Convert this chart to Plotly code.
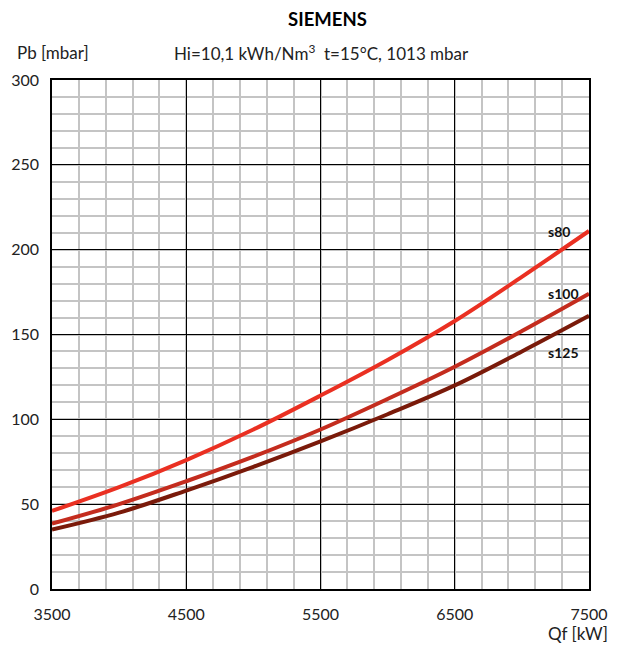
import plotly.graph_objects as go

qf = [3500, 4000, 4500, 5000, 5500, 6000, 6500, 7000, 7500]
s80 = [46, 60, 76, 94, 114, 135, 158, 184, 211]
s100 = [38.5, 50, 63.5, 78, 94, 112, 131, 152, 174]
s125 = [35, 45, 58, 72, 87, 103, 120, 140, 161]
series = [("s80", s80, "rgb(234,48,34)"), ("s100", s100, "rgb(196,44,30)"), ("s125", s125, "rgb(122,26,10)")]
label_pos = {"s80": 211, "s100": 174, "s125": 139.5}
label_x = 7178
xticks = [3500, 4500, 5500, 6500, 7500]
yticks = [0, 50, 100, 150, 200, 250, 300]

# page body has an 8px margin: figure coords = screenshot coords - 8
PL, PT, PW, PH = 52, 80, 537, 509  # plot box in screenshot pixels
W, H = 619, 638

fig = go.Figure()
for name, vals, col in series:
    fig.add_trace(go.Scatter(x=qf, y=vals, mode="lines", name=name,
                             line=dict(color=col, width=4, shape="spline"), showlegend=False))
    fig.add_annotation(x=label_x, y=label_pos[name], text="<b>%s</b>" % name, showarrow=False,
                       xanchor="left", yanchor="middle",
                       font=dict(size=14, color="#111", family="Lato"))

font = dict(family="Lato", size=16, color="#222")
hfont = dict(family="Lato", size=17, color="#222")
fig.update_layout(
    width=W, height=H, margin=dict(l=PL - 8, r=W - (PL - 8) - PW, t=PT - 8, b=H - (PT - 8) - PH),
    paper_bgcolor="white", plot_bgcolor="white", font=font,
    xaxis=dict(range=[3500, 7500], tickvals=xticks, ticktext=[str(v) for v in xticks],
               showgrid=True, gridcolor="black", gridwidth=1.2, automargin=False,
               minor=dict(dtick=200, tick0=3500, showgrid=True, gridcolor="#c4c4c4", gridwidth=1.5),
               showline=True, linecolor="black", linewidth=1.5, mirror=True, zeroline=False,
               ticks="outside", ticklen=10, tickcolor="rgba(0,0,0,0)", tickfont=font),
    yaxis=dict(range=[0, 300], tickvals=yticks, showgrid=True, gridcolor="black", gridwidth=1.2,
               automargin=False,
               minor=dict(dtick=10, showgrid=True, gridcolor="#c4c4c4", gridwidth=1.5),
               showline=True, linecolor="black", linewidth=1.5, mirror=True, zeroline=False,
               ticks="outside", ticklen=8, tickcolor="rgba(0,0,0,0)", tickfont=font),
)
def px(x):
    return (x - PL) / PW
def py(y):
    return 1 - (y - PT) / PH

fig.add_annotation(xref="paper", yref="paper", x=px(327), y=py(19),
                   text="<b>SIEMENS</b>", showarrow=False, xanchor="center", yanchor="middle",
                   font=dict(family="Lato", size=18.5, color="black"))
fig.add_annotation(xref="paper", yref="paper", x=px(15), y=py(53),
                   text="Pb [mbar]", showarrow=False, xanchor="left", yanchor="middle", font=hfont)
fig.add_annotation(xref="paper", yref="paper", x=px(172), y=py(53),
                   text="Hi=10,1 kWh/Nm<sup>3</sup>  t=15°C, 1013 mbar", showarrow=False,
                   xanchor="left", yanchor="middle", font=hfont)
fig.add_annotation(xref="paper", yref="paper", x=px(610), y=py(633),
                   text="Qf [kW]", showarrow=False, xanchor="right", yanchor="middle", font=hfont)
fig.write_html("out.html")
